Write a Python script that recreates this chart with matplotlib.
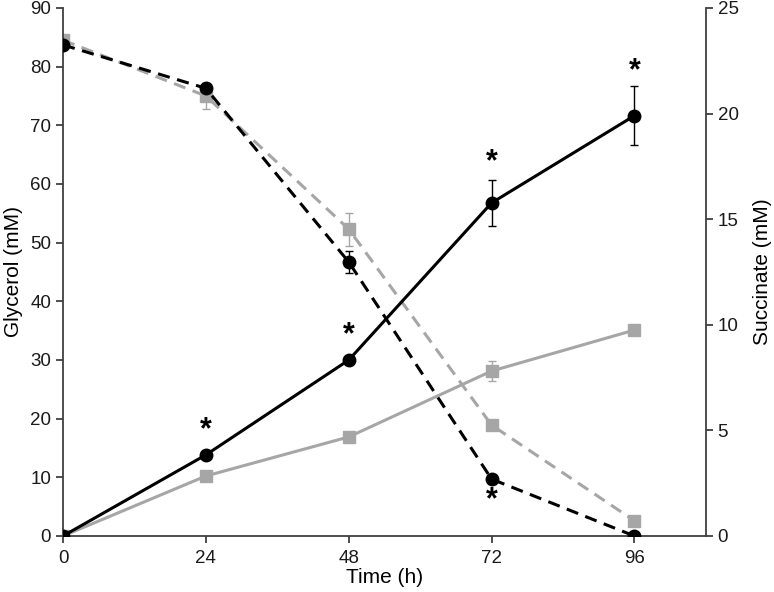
import numpy as np
import matplotlib
matplotlib.use("Agg")
import matplotlib.pyplot as plt

plt.rcParams['font.family'] = ['Liberation Sans', 'DejaVu Sans']

# time points (h)
time = [0, 24, 48, 72, 96]

# glycerol (mM), left axis - dashed
gly_black = [83.7, 76.3, 46.7, 9.7, 0.0]
gly_black_err = [0.0, 0.0, 1.9, 0.0, 0.0]
gly_gray = [84.5, 75.0, 52.3, 18.9, 2.6]
gly_gray_err = [0.0, 2.2, 2.8, 0.0, 0.7]

# succinate (mM), right axis - solid
suc_black = [0.0, 3.84, 8.33, 15.77, 19.9]
suc_black_err = [0.0, 0.0, 0.0, 1.1, 1.4]
suc_gray = [0.0, 2.84, 4.69, 7.81, 9.75]
suc_gray_err = [0.0, 0.0, 0.0, 0.47, 0.0]

# significance marks
star_suc = [(24, 5.0), (48, 9.5), (72, 17.7), (96, 22.0)]
star_gly = [(72, 6.1)]

black = '#000000'
gray = '#a6a6a6'
spine_c = '#404040'

fig = plt.figure(figsize=(7.74, 5.92), dpi=100)
ax = fig.add_axes([0.0814, 0.0946, 0.8306, 0.892])
ax2 = ax.twinx()

ax.errorbar(time, gly_gray, yerr=gly_gray_err, color=gray, ls=(0, (4, 2.5)), lw=2.2,
            marker='s', ms=8.5, ecolor=gray, elinewidth=1, capsize=3, zorder=2)
ax.errorbar(time, gly_black, yerr=gly_black_err, color=black, ls=(0, (4, 2.5)), lw=2.2,
            marker='o', ms=9, ecolor=black, elinewidth=1, capsize=3, zorder=3)

ax2.errorbar(time, suc_gray, yerr=suc_gray_err, color=gray, ls='-', lw=2.2,
             marker='s', ms=8.5, ecolor=gray, elinewidth=1, capsize=3)
ax2.errorbar(time, suc_black, yerr=suc_black_err, color=black, ls='-', lw=2.2,
             marker='o', ms=9, ecolor=black, elinewidth=1, capsize=3)

for t, v in star_suc:
    ax2.text(t, v, '*', fontsize=22, ha='center', va='center', fontweight='bold')
for t, v in star_gly:
    ax.text(t, v, '*', fontsize=22, ha='center', va='center', fontweight='bold')

ax.set_xlim(0, 108)
ax.set_ylim(0, 90)
ax2.set_ylim(0, 25)
ax.set_xticks(time)
ax.set_yticks(np.arange(0, 91, 10))
ax2.set_yticks(np.arange(0, 26, 5))

for a in (ax, ax2):
    a.spines['top'].set_visible(False)
    for s in a.spines.values():
        s.set_color(spine_c)
        s.set_linewidth(1.3)
    a.tick_params(colors=spine_c, labelcolor='#1a1a1a', labelsize=13.5, length=5, width=1.3)
ax2.spines['left'].set_visible(False)
ax.spines['right'].set_visible(False)
ax2.spines['bottom'].set_visible(False)
ax.tick_params(axis='x', pad=5)

ax.set_xlabel('Time (h)', fontsize=15, labelpad=1)
ax.set_ylabel('Glycerol (mM)', fontsize=15, labelpad=5)
ax2.set_ylabel('Succinate (mM)', fontsize=15, labelpad=10)

fig.savefig('out.png', dpi=100)
